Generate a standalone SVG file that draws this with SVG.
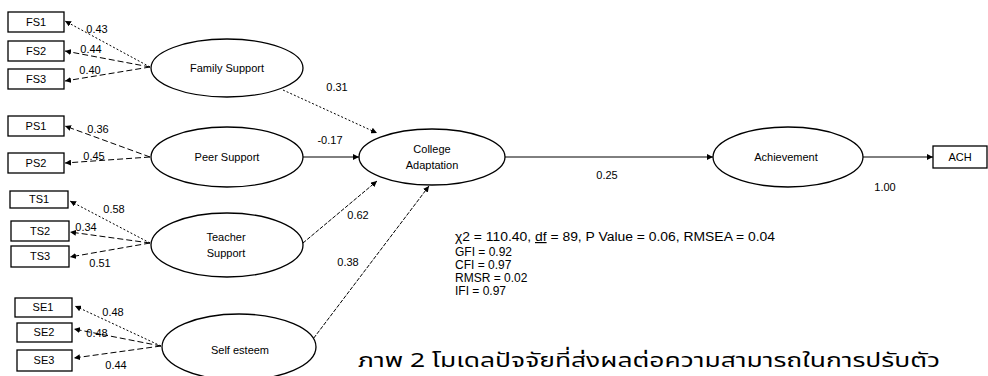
<svg xmlns="http://www.w3.org/2000/svg" width="988" height="376" viewBox="0 0 988 376">
<defs>
<marker id="ah" viewBox="0 0 10 10" refX="10" refY="5" markerWidth="6" markerHeight="6" markerUnits="userSpaceOnUse" orient="auto">
<path d="M0,0 L10,5 L0,10 z" fill="#000"/>
</marker>
</defs>
<style>
.box{fill:#fff;stroke:#000;stroke-width:1.3}
.ell{fill:#fff;stroke:#000;stroke-width:1.3}
.t{font-family:"Liberation Sans",Arial,sans-serif;font-size:11px;fill:#000;text-anchor:middle}
.lb{font-family:"Liberation Sans",Arial,sans-serif;font-size:11px;fill:#000;text-anchor:middle}
.st{font-family:"Liberation Sans",Arial,sans-serif;font-size:12px;fill:#000}
.c{fill:none;stroke:#000;stroke-width:1;marker-end:url(#ah)}
.dot{stroke-dasharray:2,2}
.dash{stroke-dasharray:6,3}
.thin{stroke-dasharray:4,1.5}
.cap{font-family:"Noto Sans Thai","Noto Sans","DejaVu Sans",sans-serif;font-size:20px;fill:#000}
</style>
<rect width="988" height="376" fill="#fff"/>

<g id="connectors">
<line class="c dot" x1="150" y1="67" x2="65" y2="21"/>
<line class="c dash" x1="150" y1="67" x2="65" y2="51"/>
<line class="c dash" x1="150" y1="67" x2="65" y2="81"/>
<line class="c dash" x1="150" y1="157" x2="65" y2="126"/>
<line class="c dash" x1="150" y1="157" x2="65" y2="163"/>
<line class="c dot" x1="150" y1="243" x2="70" y2="201"/>
<line class="c dash" x1="150" y1="243" x2="70" y2="232"/>
<line class="c dash" x1="150" y1="243" x2="70" y2="257"/>
<line class="c dot" x1="161" y1="346" x2="75" y2="306"/>
<line class="c dash" x1="161" y1="346" x2="74" y2="329"/>
<line class="c dash" x1="161" y1="346" x2="74" y2="358"/>
<line class="c dot" x1="283" y1="90" x2="377" y2="133"/>
<line class="c" x1="303" y1="157" x2="359" y2="157"/>
<line class="c thin" x1="303" y1="243" x2="377" y2="181"/>
<line class="c thin" x1="307" y1="347" x2="429" y2="186"/>
<line class="c" x1="505" y1="157" x2="713" y2="157"/>
<line class="c" x1="863" y1="157" x2="933" y2="157"/>
<text class="lb" x="97" y="33">0.43</text>
<text class="lb" x="91" y="53">0.44</text>
<text class="lb" x="90" y="74">0.40</text>
<text class="lb" x="337" y="91">0.31</text>
<text class="lb" x="98" y="133">0.36</text>
<text class="lb" x="94" y="160">0.45</text>
<text class="lb" x="330" y="144">-0.17</text>
<text class="lb" x="114" y="213">0.58</text>
<text class="lb" x="86" y="231">0.34</text>
<text class="lb" x="100" y="267">0.51</text>
<text class="lb" x="358" y="219">0.62</text>
<text class="lb" x="348" y="266">0.38</text>
<text class="lb" x="113" y="316">0.48</text>
<text class="lb" x="97" y="337">0.48</text>
<text class="lb" x="116" y="369">0.44</text>
<text class="lb" x="607" y="179">0.25</text>
<text class="lb" x="885" y="191">1.00</text>
</g>

<g id="FS1"><rect class="box" x="8" y="12" width="56" height="20"/><text class="t" x="36" y="26">FS1</text></g>
<g id="FS2"><rect class="box" x="8" y="41" width="56" height="20"/><text class="t" x="36" y="55">FS2</text></g>
<g id="FS3"><rect class="box" x="8" y="69" width="56" height="20"/><text class="t" x="36" y="83">FS3</text></g>
<g id="PS1"><rect class="box" x="8" y="116" width="56" height="20"/><text class="t" x="36" y="130">PS1</text></g>
<g id="PS2"><rect class="box" x="8" y="153" width="56" height="20"/><text class="t" x="36" y="167">PS2</text></g>
<g id="TS1"><rect class="box" x="10" y="191" width="58" height="17"/><text class="t" x="39" y="203">TS1</text></g>
<g id="TS2"><rect class="box" x="11" y="221" width="58" height="20"/><text class="t" x="40" y="235">TS2</text></g>
<g id="TS3"><rect class="box" x="11" y="246" width="58" height="21"/><text class="t" x="40" y="260">TS3</text></g>
<g id="SE1"><rect class="box" x="15" y="298" width="57" height="19"/><text class="t" x="43" y="311">SE1</text></g>
<g id="SE2"><rect class="box" x="17" y="323" width="55" height="19"/><text class="t" x="44" y="336">SE2</text></g>
<g id="SE3"><rect class="box" x="17" y="350" width="55" height="21"/><text class="t" x="44" y="364">SE3</text></g>

<g id="FamilySupport"><ellipse class="ell" cx="227" cy="68" rx="76" ry="29"/><text class="t" x="227" y="72">Family Support</text></g>
<g id="PeerSupport"><ellipse class="ell" cx="227" cy="157" rx="76" ry="30"/><text class="t" x="227" y="161">Peer Support</text></g>
<g id="TeacherSupport"><ellipse class="ell" cx="227" cy="245" rx="76" ry="32"/><text class="t" x="226" y="241">Teacher</text><text class="t" x="226" y="257">Support</text></g>
<g id="SelfEsteem"><ellipse class="ell" cx="239" cy="347" rx="77" ry="33"/><text class="t" x="240" y="354">Self esteem</text></g>
<g id="CollegeAdaptation"><ellipse class="ell" cx="432" cy="157" rx="73" ry="28"/><text class="t" x="432" y="153">College</text><text class="t" x="432" y="169">Adaptation</text></g>
<g id="Achievement"><ellipse class="ell" cx="788" cy="157" rx="75" ry="30"/><text class="t" x="786" y="161">Achievement</text></g>
<g id="ACH"><rect class="box" x="933" y="146" width="54" height="22"/><text class="t" x="960" y="161">ACH</text></g>

<g id="fit">
<text class="st" x="455" y="241" textLength="320" lengthAdjust="spacingAndGlyphs">χ2 = 110.40, <tspan text-decoration="underline">df</tspan> = 89, P Value = 0.06, RMSEA = 0.04</text>
<text class="st" x="455" y="256">GFI = 0.92</text>
<text class="st" x="455" y="269">CFI = 0.97</text>
<text class="st" x="455" y="282">RMSR = 0.02</text>
<text class="st" x="455" y="295">IFI = 0.97</text>
</g>
<text class="cap" x="358" y="367" textLength="582" lengthAdjust="spacingAndGlyphs">ภาพ 2 โมเดลปัจจัยที่ส่งผลต่อความสามารถในการปรับตัว</text>
</svg>
